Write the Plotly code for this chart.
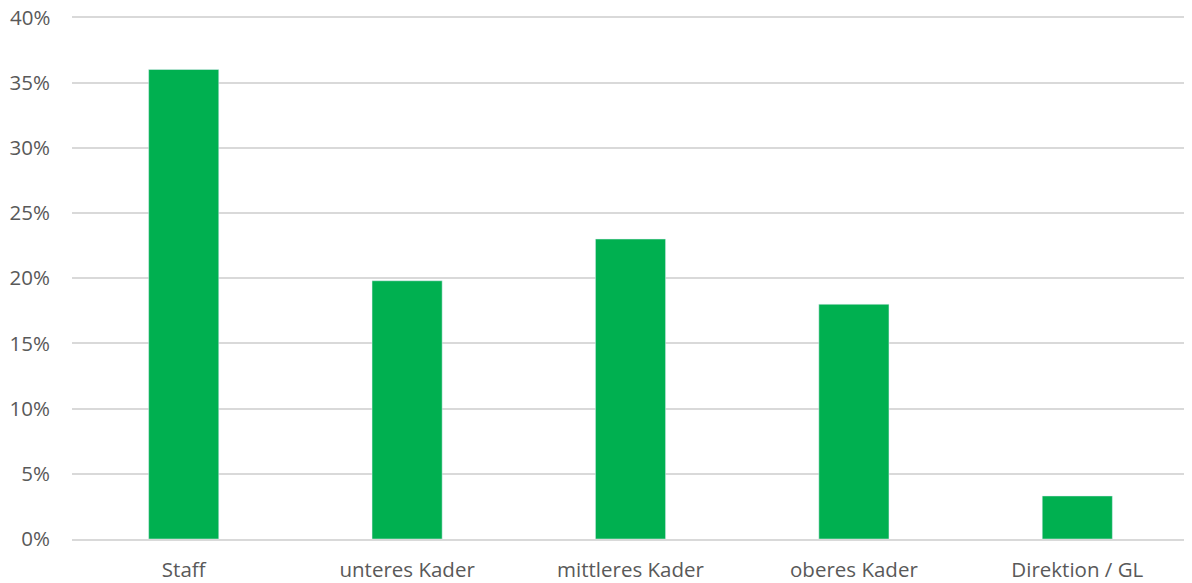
import plotly.graph_objects as go

categories = ["Staff", "unteres Kader", "mittleres Kader", "oberes Kader", "Direktion / GL"]
values = [0.36, 0.198, 0.23, 0.18, 0.033]
tick_vals = [0, 0.05, 0.10, 0.15, 0.20, 0.25, 0.30, 0.35, 0.40]
tick_text = ["0%", "5%", "10%", "15%", "20%", "25%", "30%", "35%", "40%"]

# the top tick label would be hidden by plotly (touches the paper edge), so draw it as annotation
axis_text = tick_text[:-1] + [""]

fig = go.Figure(go.Bar(x=categories, y=values, marker_color="#00B050", width=0.314))
fig.update_layout(
    width=1184, height=575,
    margin=dict(l=64, r=3, t=8, b=44),
    plot_bgcolor="white", paper_bgcolor="white",
    font=dict(family="Open Sans, Noto Sans, sans-serif", size=20.5, color="#595959"),
    showlegend=False,
    bargap=0.686,
)
fig.add_annotation(x=0, xref="paper", y=tick_vals[-1], yref="y", text=tick_text[-1],
                   showarrow=False, xanchor="right", yanchor="middle", xshift=-20,
                   font=dict(family="Open Sans, Noto Sans, sans-serif", size=20.5, color="#595959"))
fig.update_yaxes(range=[0, 0.401], tickvals=tick_vals, ticktext=axis_text,
                 showgrid=True, gridcolor="#d9d9d9", gridwidth=1.5, zeroline=False,
                 showline=False, ticks="", ticklabelstandoff=21, automargin=False)
fig.update_xaxes(showline=True, linecolor="#d9d9d9", linewidth=1.5, ticks="",
                 ticklabelstandoff=12, automargin=False)
fig.write_html("out.html")
